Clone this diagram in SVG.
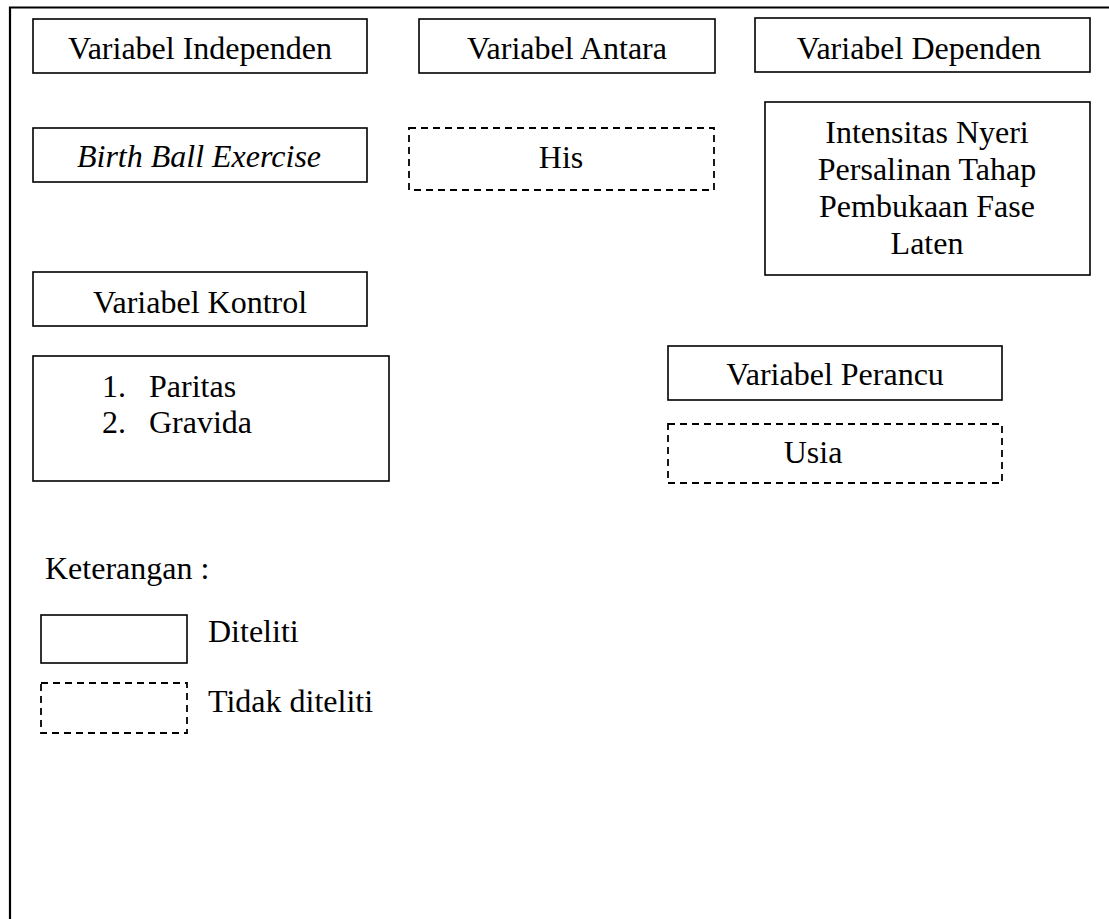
<svg xmlns="http://www.w3.org/2000/svg" width="1109" height="919" viewBox="0 0 1109 919">
<style>
.box{fill:none;stroke:#000;stroke-width:1.6}
.dash{fill:none;stroke:#000;stroke-width:1.8;stroke-dasharray:7 5}
.t{font-family:"Liberation Serif","Times New Roman",serif;font-size:32px;fill:#000}
.c{text-anchor:middle}
.i{font-style:italic}
</style>
<rect x="0" y="0" width="1109" height="919" fill="#fff"/>
<g id="frame">
<path d="M10,919 V7.5 H1109" fill="none" stroke="#000" stroke-width="2.2"/>
</g>
<g id="connectors"></g>
<g id="var-independen">
<rect class="box" x="33" y="19" width="334" height="54"/>
<text class="t c" x="200" y="59">Variabel Independen</text>
</g>
<g id="birth-ball">
<rect class="box" x="33" y="128" width="334" height="54"/>
<text class="t c i" x="199" y="167">Birth Ball Exercise</text>
</g>
<g id="var-antara">
<rect class="box" x="419" y="19" width="296" height="54"/>
<text class="t c" x="567" y="59">Variabel Antara</text>
</g>
<g id="his">
<rect class="dash" x="409" y="128" width="305" height="62"/>
<text class="t c" x="561" y="168">His</text>
</g>
<g id="var-dependen">
<rect class="box" x="755" y="18" width="335" height="54"/>
<text class="t c" x="919" y="59">Variabel Dependen</text>
</g>
<g id="intensitas">
<rect class="box" x="765" y="102" width="325" height="173"/>
<text class="t c" x="927" y="143">Intensitas Nyeri</text>
<text class="t c" x="927" y="180">Persalinan Tahap</text>
<text class="t c" x="927" y="217">Pembukaan Fase</text>
<text class="t c" x="927" y="254">Laten</text>
</g>
<g id="var-kontrol">
<rect class="box" x="33" y="272" width="334" height="54"/>
<text class="t c" x="200" y="313">Variabel Kontrol</text>
</g>
<g id="kontrol-list">
<rect class="box" x="33" y="356" width="356" height="125"/>
<text class="t" x="102" y="397">1.</text>
<text class="t" x="149" y="397">Paritas</text>
<text class="t" x="102" y="433">2.</text>
<text class="t" x="149" y="433">Gravida</text>
</g>
<g id="var-perancu">
<rect class="box" x="668" y="346" width="334" height="54"/>
<text class="t c" x="835" y="385">Variabel Perancu</text>
</g>
<g id="usia">
<rect class="dash" x="668" y="424" width="334" height="59"/>
<text class="t c" x="813" y="463">Usia</text>
</g>
<g id="legend">
<text class="t" x="45" y="579">Keterangan :</text>
<rect class="box" x="41" y="615" width="146" height="48"/>
<text class="t" x="208" y="642">Diteliti</text>
<rect class="dash" x="41" y="683" width="146" height="50"/>
<text class="t" x="208" y="712">Tidak diteliti</text>
</g>
</svg>
